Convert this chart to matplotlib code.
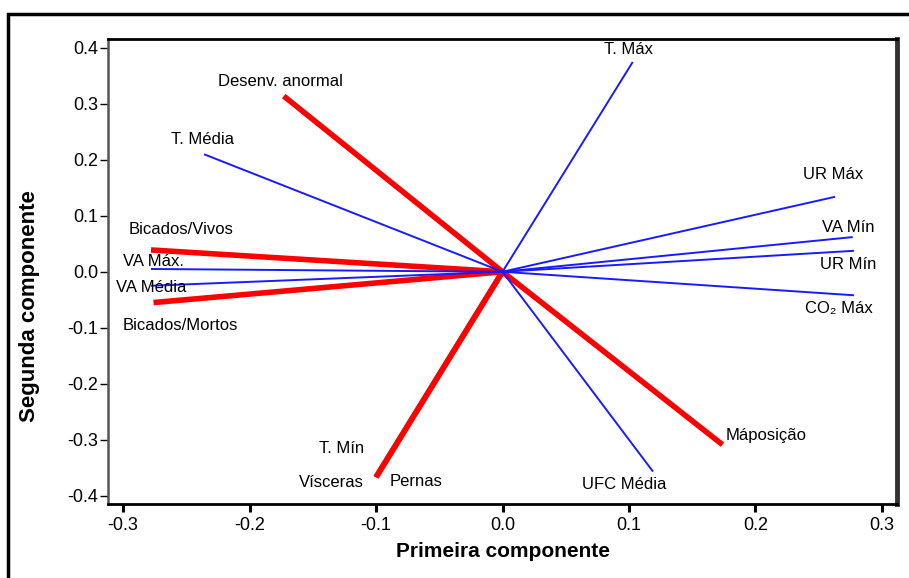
import matplotlib
matplotlib.use("Agg")
import matplotlib.pyplot as plt
from matplotlib.patches import Rectangle

# Biplot loadings (primeira / segunda componente)
blue_names = ["T. Máx", "T. Média", "VA Máx.", "VA Média", "UR Máx", "VA Mín",
              "UR Mín", "CO₂ Máx", "UFC Média", "T. Mín"]
blue_pc1 = [0.103, -0.236, -0.278, -0.278, 0.263, 0.277, 0.278, 0.278, 0.119, -0.101]
blue_pc2 = [0.375, 0.210, 0.005, -0.025, 0.134, 0.062, 0.0375, -0.042, -0.357, -0.366]

red_names = ["Desenv. anormal", "Bicados/Vivos", "Bicados/Mortos", "Máposição",
             "Vísceras", "Pernas"]
red_pc1 = [-0.173, -0.278, -0.276, 0.174, -0.100, -0.100]
red_pc2 = [0.314, 0.039, -0.055, -0.309, -0.367, -0.367]

# label offsets in pixels from the arrow tip
blue_off = [(-4, 12), (-2, 15), (2, 7), (0, -2), (-2, 22), (-4, 10),
            (-6, -14), (-15, -13), (-29, -13), (-33, 28)]
red_off = [(-3, 15), (30, 20), (27, -23), (3, 9), (-45, -5), (40, -4)]
red_ha = ["center", "center", "center", "left", "center", "center"]

plt.rcParams['font.family'] = ['Liberation Sans', 'DejaVu Sans']

fig = plt.figure(figsize=(9.09, 5.78), dpi=100)
ax = fig.add_axes([108 / 909, 74 / 578, 789 / 909, 465 / 578])

# outer frame (only left and top visible)
fig.add_artist(Rectangle((8 / 909, -0.1), 1.2, 1.1 - 14 / 578, transform=fig.transFigure,
                         fill=False, edgecolor='black', linewidth=2.5))

for i, n in enumerate(blue_names):
    z = 1 if n == "T. Mín" else 3
    ax.plot([0, blue_pc1[i]], [0, blue_pc2[i]], color='#1a1aff', lw=1.4,
            solid_capstyle='butt', zorder=z)
for i, n in enumerate(red_names):
    ax.plot([0, red_pc1[i]], [0, red_pc2[i]], color='#ff0000', lw=4,
            solid_capstyle='butt', zorder=2)

for i, n in enumerate(blue_names):
    ax.annotate(n, (blue_pc1[i], blue_pc2[i]), xytext=blue_off[i],
                textcoords='offset pixels', ha='center', va='center', fontsize=12)
for i, n in enumerate(red_names):
    ax.annotate(n, (red_pc1[i], red_pc2[i]), xytext=red_off[i],
                textcoords='offset pixels', ha=red_ha[i], va='center', fontsize=12)

ax.set_xlim(-0.312, 0.312)
ax.set_ylim(-0.415, 0.416)
ax.set_xticks([-0.3, -0.2, -0.1, 0.0, 0.1, 0.2, 0.3])
ax.set_yticks([-0.4, -0.3, -0.2, -0.1, 0.0, 0.1, 0.2, 0.3, 0.4])
ax.xaxis.set_major_formatter(plt.FormatStrFormatter('%.1f'))
ax.yaxis.set_major_formatter(plt.FormatStrFormatter('%.1f'))
ax.tick_params(axis='x', direction='out', length=6, width=2.2, labelsize=13, pad=3)
ax.tick_params(axis='y', direction='out', length=6, width=1, labelsize=13, pad=1)

ax.spines['left'].set_color('#555555')
ax.spines['left'].set_linewidth(1.8)
ax.spines['top'].set_linewidth(2)
ax.spines['bottom'].set_linewidth(2)
ax.spines['right'].set_color('#333333')
ax.spines['right'].set_linewidth(3.5)

ax.set_xlabel("Primeira componente", fontsize=15, fontweight='bold', labelpad=6)
fig.text(30 / 909, 1 - 306 / 578, "Segunda componente", rotation=90, fontsize=16,
         fontweight='bold', ha='center', va='center')

fig.savefig("out.png", dpi=100)
